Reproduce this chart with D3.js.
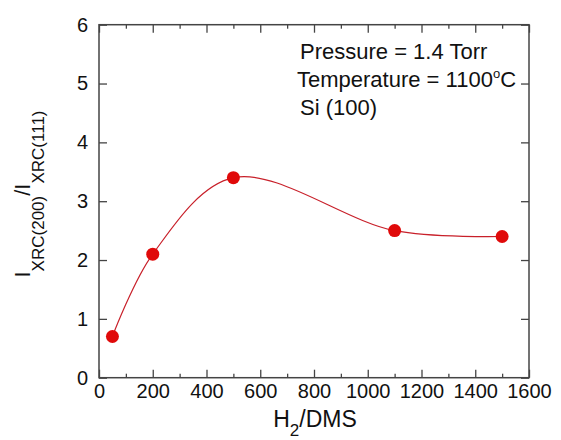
<!DOCTYPE html>
<html><head><meta charset="utf-8">
<script src="https://cdn.jsdelivr.net/npm/d3@7"></script>
<style>body{margin:0;background:#fff}svg{display:block}text{font-family:"Liberation Sans",Arial,sans-serif;fill:#111}</style>
</head><body>
<svg id="c" width="561" height="440"></svg>
<script>
const xValues = [50, 200, 500, 1100, 1500];
const yValues = [0.7, 2.1, 3.4, 2.5, 2.4];
const xTicks = [0, 200, 400, 600, 800, 1000, 1200, 1400, 1600];
const yTicks = [0, 1, 2, 3, 4, 5, 6];
const notes = ["Pressure = 1.4 Torr", "Temperature = 1100", "Si (100)"];

const svg = d3.select("#c");
const L = 99, R = 529, T = 24.7, B = 377.7;
const x = d3.scaleLinear().domain([0, 1600]).range([L, R]);
const y = d3.scaleLinear().domain([0, 6]).range([B, T]);
const axisCol = "#444";

function styleAxis(g){
  g.select(".domain").remove();
  g.selectAll(".tick line").attr("stroke", axisCol).attr("stroke-width", 1.3);
  g.selectAll("text").style("font-size","20px").attr("fill","#111");
}
const minorX = d3.range(100, 1600, 200);
svg.append("g").attr("transform",`translate(0,${B})`).call(d3.axisBottom(x).tickValues(minorX).tickSize(-4).tickFormat("")).call(styleAxis);
svg.append("g").attr("transform",`translate(0,${T})`).call(d3.axisTop(x).tickValues(minorX).tickSize(-4).tickFormat("")).call(styleAxis);
svg.append("g").attr("transform",`translate(0,${B})`).call(d3.axisBottom(x).tickValues(xTicks).tickSize(-8).tickPadding(6).tickFormat(d3.format("d"))).call(styleAxis);
svg.append("g").attr("transform",`translate(0,${T})`).call(d3.axisTop(x).tickValues(xTicks).tickSize(-8).tickFormat("")).call(styleAxis);
svg.append("g").attr("transform",`translate(${L},0)`).call(d3.axisLeft(y).tickValues(yTicks).tickSize(-8).tickPadding(11).tickFormat(d3.format("d"))).call(styleAxis);
svg.append("g").attr("transform",`translate(${R},0)`).call(d3.axisRight(y).tickValues(yTicks).tickSize(-8).tickFormat("")).call(styleAxis);

svg.append("rect").attr("x",L).attr("y",T).attr("width",R-L).attr("height",B-T)
  .attr("fill","none").attr("stroke",axisCol).attr("stroke-width",1.5);

const pts = xValues.map((v,i)=>[v, yValues[i]]);
const line = d3.line().x(d=>x(d[0])).y(d=>y(d[1])).curve(d3.curveCatmullRom.alpha(0.5));
svg.append("path").attr("d", line(pts)).attr("fill","none").attr("stroke","#c8202a").attr("stroke-width",1.2);
svg.selectAll("circle.pt").data(pts).enter().append("circle")
  .attr("cx",d=>x(d[0])).attr("cy",d=>y(d[1])).attr("r",6.5).attr("fill","#e00a0a");

svg.append("text").attr("x",300).attr("y",59).style("font-size","22px").text(notes[0]);
const t2 = svg.append("text").attr("x",297).attr("y",87).style("font-size","22px");
t2.append("tspan").text(notes[1]);
t2.append("tspan").attr("dy",-9).style("font-size","13px").text("o");
t2.append("tspan").attr("dy",9).text("C");
svg.append("text").attr("x",300).attr("y",115).style("font-size","22px").text(notes[2]);

const xl = svg.append("text").attr("x",315).attr("y",427).attr("text-anchor","middle").style("font-size","23px");
xl.append("tspan").text("H");
xl.append("tspan").attr("dy",9).style("font-size","17px").text("2");
xl.append("tspan").attr("dy",-9).text("/DMS");

const yl = svg.append("text").attr("transform","translate(30,194) rotate(-90)").attr("text-anchor","middle").style("font-size","22px");
yl.append("tspan").text("I");
yl.append("tspan").attr("dy",14).style("font-size","17px").text("XRC(200)");
yl.append("tspan").attr("dy",-14).text("/I");
yl.append("tspan").attr("dy",14).style("font-size","17px").text("XRC(111)");
</script>
</body></html>
